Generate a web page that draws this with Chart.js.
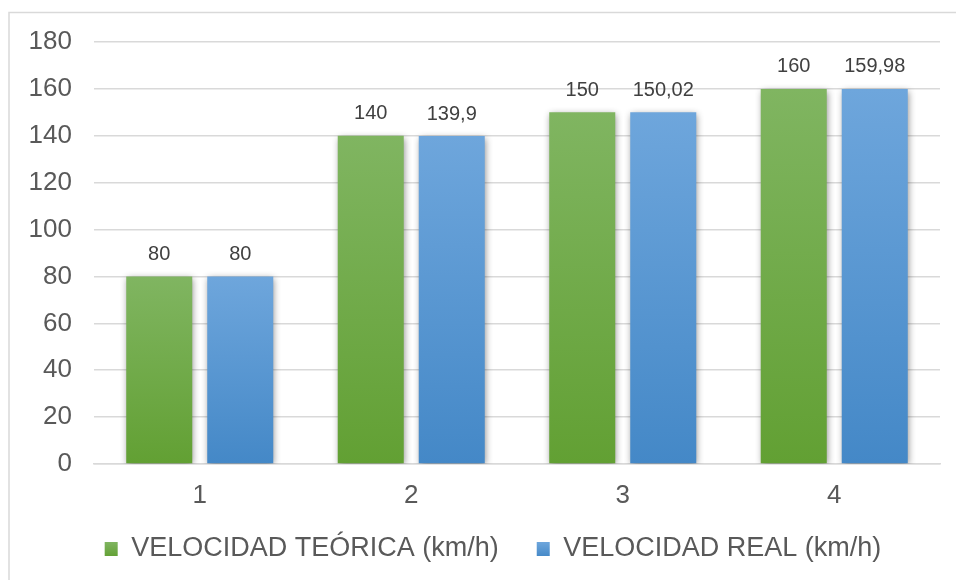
<!DOCTYPE html>
<html>
<head>
<meta charset="utf-8">
<script src="https://cdn.jsdelivr.net/npm/chart.js@4/dist/chart.umd.min.js"></script>
<style>
  html, body { margin: 0; padding: 0; background: #ffffff; }
  #wrap { width: 956px; height: 580px; position: relative; }
</style>
</head>
<body>
<div id="wrap"><canvas id="chart" width="956" height="580"></canvas></div>
<script>
// Speed test results per run
const categories = ['1', '2', '3', '4'];
const theoreticalSpeed = [80, 140, 150, 160];
const realSpeed = [80, 139.9, 150.02, 159.98];
const seriesNames = ['VELOCIDAD TEÓRICA (km/h)', 'VELOCIDAD REAL (km/h)'];

const FONT = "'Liberation Sans', Arial, sans-serif";
const GRID = '#d9d9d9';
const GREEN = ['#80b561', '#62a033'];
const BLUE = ['#6ea6dc', '#4488c7'];

// vertical gradient spanning each bar from its top down to the zero line
function barGradient(colors) {
  return function (ctx) {
    const chart = ctx.chart;
    const y = chart.scales.y;
    if (!y || ctx.raw === undefined) return colors[0];
    const y0 = y.getPixelForValue(0);
    const y1 = y.getPixelForValue(ctx.raw);
    if (!isFinite(y0) || !isFinite(y1) || y0 === y1) return colors[0];
    const g = chart.ctx.createLinearGradient(0, y1, 0, y0);
    g.addColorStop(0, colors[0]);
    g.addColorStop(1, colors[1]);
    return g;
  };
}

// white page with a light frame along the top and left edges
const framePlugin = {
  id: 'frame',
  beforeDraw(chart) {
    const c = chart.ctx;
    c.save();
    c.fillStyle = '#ffffff';
    c.fillRect(0, 0, chart.width, chart.height);
    c.strokeStyle = GRID;
    c.lineWidth = 1.5;
    c.beginPath();
    c.moveTo(chart.width, 12.5);
    c.lineTo(9, 12.5);
    c.lineTo(9, chart.height);
    c.stroke();
    c.restore();
  }
};

// nudge the legend box so the two entries sit under the plot
const legendShift = {
  id: 'legendShift',
  afterLayout(chart) {
    const lg = chart.legend;
    if (!lg) return;
    lg.left += 23; lg.right += 23;
    lg.top -= 7.5; lg.bottom -= 7.5;
  }
};

// soft shadow under the bars, then value labels above them
const barDecor = {
  id: 'barDecor',
  beforeDatasetsDraw(chart) {
    const c = chart.ctx;
    c.save();
    c.shadowColor = 'rgba(0,0,0,0.45)';
    c.shadowBlur = 7;
    c.shadowOffsetX = 1;
    c.shadowOffsetY = 2;
  },
  afterDatasetsDraw(chart) {
    const c = chart.ctx;
    c.restore();
    c.save();
    c.font = '20px ' + FONT;
    c.fillStyle = '#404040';
    c.textAlign = 'center';
    c.textBaseline = 'middle';
    chart.data.datasets.forEach((ds, i) => {
      const meta = chart.getDatasetMeta(i);
      meta.data.forEach((el, j) => {
        const txt = String(ds.data[j]).replace('.', ',');
        c.fillText(txt, el.x, el.y - 22);
      });
    });
    c.restore();
  }
};

const LEGEND_PAD = 38;

new Chart(document.getElementById('chart'), {
  type: 'bar',
  data: {
    labels: categories,
    datasets: [
      {
        label: seriesNames[0],
        data: theoreticalSpeed,
        backgroundColor: barGradient(GREEN),
        categoryPercentage: 0.766,
        barPercentage: 0.815
      },
      {
        label: seriesNames[1],
        data: realSpeed,
        backgroundColor: barGradient(BLUE),
        categoryPercentage: 0.766,
        barPercentage: 0.815
      }
    ]
  },
  options: {
    responsive: false,
    animation: false,
    devicePixelRatio: 1,
    layout: { padding: { top: 42, right: 16, bottom: 0, left: 0 } },
    plugins: {
      tooltip: { enabled: false },
      legend: {
        position: 'bottom',
        labels: {
          font: { family: FONT, size: 27 },
          color: '#595959',
          boxWidth: 13,
          boxHeight: 14,
          padding: LEGEND_PAD,
          generateLabels(chart) {
            const fills = [GREEN, BLUE];
            return chart.data.datasets.map((ds, i) => {
              const g = chart.ctx.createLinearGradient(0, 542, 0, 557);
              g.addColorStop(0, fills[i][0]);
              g.addColorStop(1, fills[i][1]);
              return {
                text: ds.label,
                fillStyle: g,
                strokeStyle: 'rgba(0,0,0,0)',
                lineWidth: 0,
                fontColor: '#595959',
                datasetIndex: i,
                hidden: false
              };
            });
          }
        }
      }
    },
    scales: {
      x: {
        grid: { display: false, drawTicks: false },
        border: { display: true, color: GRID, width: 1.5 },
        ticks: {
          font: { family: FONT, size: 26 },
          color: '#595959',
          padding: 16
        },
        afterFit(scale) { scale.height = 41; }
      },
      y: {
        min: 0,
        max: 180,
        grid: { color: GRID, lineWidth: 1.5, drawTicks: false },
        border: { display: false },
        ticks: {
          stepSize: 20,
          font: { family: FONT, size: 26 },
          color: '#595959',
          padding: 22
        },
        afterFit(scale) { scale.width = 94; }
      }
    }
  },
  plugins: [framePlugin, legendShift, barDecor]
});
</script>
</body>
</html>
